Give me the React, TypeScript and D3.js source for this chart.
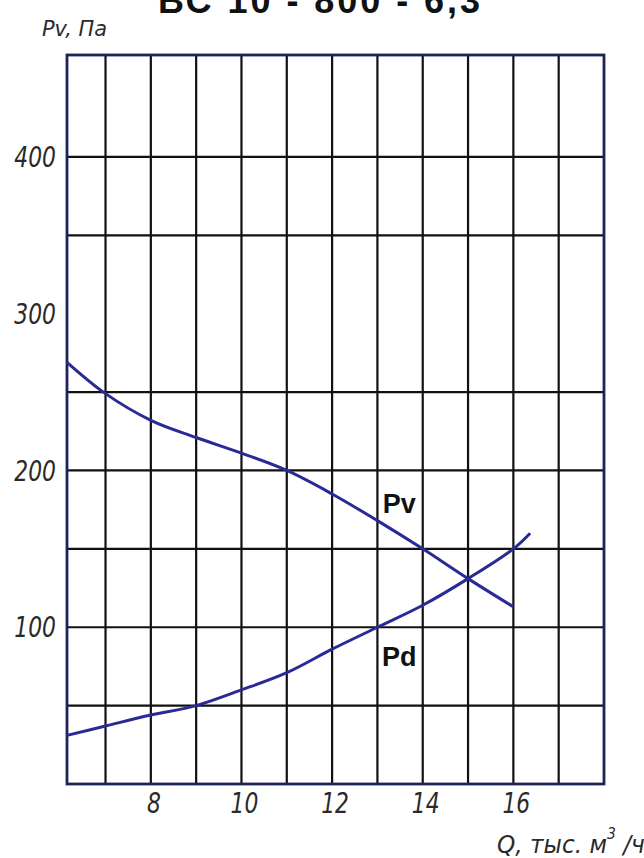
import * as React from 'react';
import * as d3 from 'd3';

// flow, thousand m3/h
const pvFlow = [6.15, 7, 8, 9, 10, 11, 12, 13, 14, 15, 16];
// static pressure Pv, Pa
const pvValues = [269, 249, 232, 221, 211, 200, 185, 168, 150, 131, 113];
const pdFlow = [6.15, 7, 8, 9, 10, 11, 12, 13, 14, 15, 16, 16.37];
// dynamic pressure Pd, Pa
const pdValues = [31, 37, 44, 50, 60, 71, 86, 100, 114, 131, 150, 160];

const xGrid = [7, 8, 9, 10, 11, 12, 13, 14, 15, 16, 17];
const yGrid = [50, 100, 150, 200, 250, 350, 400];
const xTicks = [8, 10, 12, 14, 16];
const yTicks = [100, 200, 300, 400];

const title = 'ВС 10 - 800 - 6,3';

const App: React.FC = () => {
  const svgRef = React.useRef<SVGSVGElement | null>(null);
  const width = 644;
  const height = 858;
  const plot = { left: 67, right: 604, top: 55, bottom: 784 };
  const tickFont = '"DejaVu Sans", sans-serif';
  const squeeze = 0.78; // drawing font is narrow

  React.useEffect(() => {
    if (!svgRef.current) return;
    const svg = d3.select(svgRef.current);
    svg.selectAll('*').remove();

    const x = d3.scaleLinear().domain([6.15, 18]).range([plot.left, plot.right]);
    const y = d3.scaleLinear().domain([0, 465]).range([plot.bottom, plot.top]);

    svg.append('rect').attr('width', width).attr('height', height).attr('fill', '#fff');

    // title, clipped at the top like the scan
    svg
      .append('text')
      .attr('x', 158)
      .attr('y', 13)
      .attr('textLength', 322)
      .attr('font-family', 'Liberation Sans, Arial, sans-serif')
      .attr('font-weight', 'bold')
      .attr('font-size', 36)
      .attr('fill', '#111')
      .text(title);

    const grid = svg.append('g').attr('stroke', '#111').attr('stroke-width', 2.2);
    grid
      .selectAll('line.v')
      .data(xGrid)
      .enter()
      .append('line')
      .attr('x1', (d) => x(d))
      .attr('x2', (d) => x(d))
      .attr('y1', plot.top)
      .attr('y2', plot.bottom);
    grid
      .selectAll('line.h')
      .data(yGrid)
      .enter()
      .append('line')
      .attr('x1', plot.left)
      .attr('x2', plot.right)
      .attr('y1', (d) => y(d))
      .attr('y2', (d) => y(d));

    svg
      .append('rect')
      .attr('x', plot.left)
      .attr('y', plot.top)
      .attr('width', plot.right - plot.left)
      .attr('height', plot.bottom - plot.top)
      .attr('fill', 'none')
      .attr('stroke', '#1c2458')
      .attr('stroke-width', 2.8);

    const line = (xs: number[]) =>
      d3
        .line<number>()
        .x((_, i) => x(xs[i]))
        .y((d) => y(d))
        .curve(d3.curveCatmullRom.alpha(0.5));

    svg
      .append('path')
      .attr('d', line(pvFlow)(pvValues))
      .attr('fill', 'none')
      .attr('stroke', '#2a2a96')
      .attr('stroke-width', 3);
    svg
      .append('path')
      .attr('d', line(pdFlow)(pdValues))
      .attr('fill', 'none')
      .attr('stroke', '#2a2a96')
      .attr('stroke-width', 3);

    // curve names
    const names = [
      { t: 'Pv', q: 13.12, p: 173 },
      { t: 'Pd', q: 13.1, p: 75 },
    ];
    svg
      .selectAll('text.name')
      .data(names)
      .enter()
      .append('text')
      .attr('x', (d) => x(d.q))
      .attr('y', (d) => y(d.p))
      .attr('font-family', 'Liberation Sans, Arial, sans-serif')
      .attr('font-weight', 'bold')
      .attr('font-size', 27)
      .attr('fill', '#111')
      .text((d) => d.t);

    svg
      .selectAll('text.xt')
      .data(xTicks)
      .enter()
      .append('text')
      .attr('transform', (d) => `translate(${x(d) + 3},813) scale(${squeeze},1)`)
      .attr('text-anchor', 'middle')
      .attr('font-family', tickFont)
      .attr('font-style', 'italic')
      .attr('font-size', 28)
      .attr('fill', '#2a2a2a')
      .text((d) => d);

    svg
      .selectAll('text.yt')
      .data(yTicks)
      .enter()
      .append('text')
      .attr('transform', (d) => `translate(56,${y(d)}) scale(${squeeze},1)`)
      .attr('dy', '0.36em')
      .attr('text-anchor', 'end')
      .attr('font-family', tickFont)
      .attr('font-style', 'italic')
      .attr('font-size', 28)
      .attr('fill', '#2a2a2a')
      .text((d) => d);

    svg
      .append('text')
      .attr('transform', 'translate(42,36) scale(0.95,1)')
      .attr('font-family', tickFont)
      .attr('font-style', 'italic')
      .attr('font-size', 22)
      .attr('fill', '#2a2a2a')
      .text('Pv, Па');

    const q = svg
      .append('text')
      .attr('transform', 'translate(497,853) scale(0.93,1)')
      .attr('font-family', tickFont)
      .attr('font-style', 'italic')
      .attr('font-size', 25)
      .attr('fill', '#2a2a2a');
    q.append('tspan').text('Q, тыс. м');
    q.append('tspan').attr('dy', -14).attr('font-size', 15).text('3');
    q.append('tspan').attr('dy', 14).text(' /ч');
  }, []);

  return (
    <svg
      ref={svgRef}
      width={width}
      height={height}
      style={{ position: 'absolute', left: 0, top: 0 }}
    />
  );
};

export default App;
